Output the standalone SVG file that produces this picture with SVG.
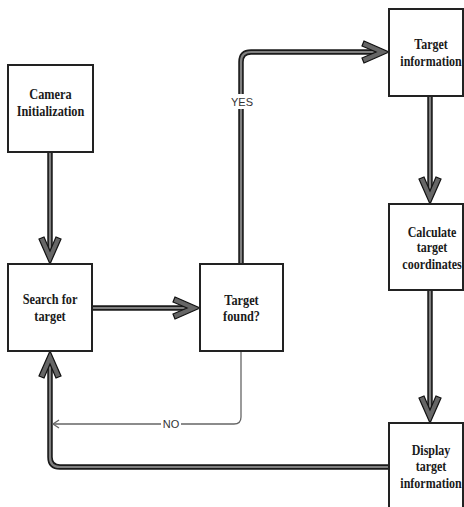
<svg xmlns="http://www.w3.org/2000/svg" width="464" height="507" viewBox="0 0 464 507">
<style>
.box{fill:#fff;stroke:#222;stroke-width:2}
.t{font-family:"Liberation Serif","Times New Roman",serif;font-weight:bold;font-size:15px;fill:#1a1a1a;text-anchor:middle}
.sh-o{fill:none;stroke:#1a1a1a;stroke-width:5.5}
.sh-i{fill:none;stroke:#808080;stroke-width:2.2}
.thin{fill:none;stroke:#666;stroke-width:1.3}
.lbl{font-family:"Liberation Sans",Arial,sans-serif;font-size:11px;fill:#333;text-anchor:middle}
.chev{fill:#666;stroke:#111;stroke-width:1.2;stroke-linejoin:miter}
</style>
<defs>
<path id="chev" class="chev" d="M0,0 L-11,-25 L-6,-27 L0,-13 L6,-27 L11,-25 Z"/>
</defs>
<rect width="464" height="507" fill="#fff"/>
<g id="connectors">
  <!-- Camera -> Search -->
  <path class="sh-o" d="M50,152 V252"/>
  <path class="sh-i" d="M50,152 V252"/>
  <use href="#chev" transform="translate(50,264)"/>
  <!-- Search -> Target found -->
  <path class="sh-o" d="M92,308 H188"/>
  <path class="sh-i" d="M92,308 H188"/>
  <use href="#chev" transform="translate(200,308) rotate(-90)"/>
  <!-- Target found -> Target information (YES) -->
  <path class="sh-o" d="M241,264 V62 Q241,52 251,52 H377"/>
  <path class="sh-i" d="M241,264 V62 Q241,52 251,52 H377"/>
  <use href="#chev" transform="translate(389,52) rotate(-90)"/>
  <rect x="230" y="94" width="24" height="15" fill="#fff"/>
  <text class="lbl" x="242" y="106">YES</text>
  <!-- Target information -> Calculate -->
  <path class="sh-o" d="M430,96 V192"/>
  <path class="sh-i" d="M430,96 V192"/>
  <use href="#chev" transform="translate(430,204)"/>
  <!-- Calculate -> Display -->
  <path class="sh-o" d="M430,290 V411"/>
  <path class="sh-i" d="M430,290 V411"/>
  <use href="#chev" transform="translate(430,423)"/>
  <!-- Display -> Search -->
  <path class="sh-o" d="M389,467 H60 Q50,467 50,457 V363"/>
  <path class="sh-i" d="M389,467 H60 Q50,467 50,457 V363"/>
  <use href="#chev" transform="translate(50,351) rotate(180)"/>
  <!-- NO -->
  <path class="thin" d="M241,351 V417 Q241,424 234,424 H53"/>
  <path class="thin" d="M59,420 L53,424 L59,428" stroke="#111"/>
  <rect x="161" y="417" width="20" height="14" fill="#fff"/>
  <text class="lbl" x="171" y="428">NO</text>
</g>
<g id="camera">
  <rect class="box" x="8" y="65" width="85" height="87"/>
  <text class="t" transform="translate(50.5,0) scale(0.82,1)" x="0" y="99">Camera</text>
  <text class="t" transform="translate(50.5,0) scale(0.82,1)" x="0" y="116">Initialization</text>
</g>
<g id="search">
  <rect class="box" x="8" y="264" width="84" height="87"/>
  <text class="t" transform="translate(50,0) scale(0.82,1)" x="0" y="304">Search for</text>
  <text class="t" transform="translate(50,0) scale(0.82,1)" x="0" y="321">target</text>
</g>
<g id="found">
  <rect class="box" x="200" y="264" width="83" height="87"/>
  <text class="t" transform="translate(241.5,0) scale(0.82,1)" x="0" y="305">Target</text>
  <text class="t" transform="translate(241.5,0) scale(0.82,1)" x="0" y="321">found?</text>
</g>
<g id="info">
  <rect class="box" x="389" y="9" width="74" height="87"/>
  <text class="t" transform="translate(431,0) scale(0.8,1)" x="0" y="49">Target</text>
  <text class="t" transform="translate(431,0) scale(0.8,1)" x="0" y="66">information</text>
</g>
<g id="calc">
  <rect class="box" x="389" y="204" width="74" height="86"/>
  <text class="t" transform="translate(432,0) scale(0.8,1)" x="0" y="237">Calculate</text>
  <text class="t" transform="translate(432,0) scale(0.8,1)" x="0" y="252">target</text>
  <text class="t" transform="translate(432,0) scale(0.8,1)" x="0" y="269">coordinates</text>
</g>
<g id="display">
  <rect class="box" x="389" y="423" width="74" height="90"/>
  <text class="t" transform="translate(431,0) scale(0.8,1)" x="0" y="455">Display</text>
  <text class="t" transform="translate(431,0) scale(0.8,1)" x="0" y="471">target</text>
  <text class="t" transform="translate(431,0) scale(0.8,1)" x="0" y="488">information</text>
</g>
</svg>
